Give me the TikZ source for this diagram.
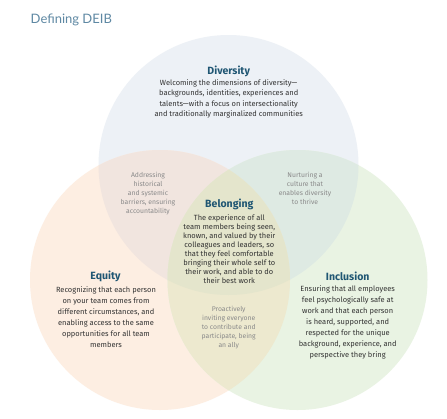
\documentclass[tikz,border=0pt]{standalone}
\usepackage{fontspec}
\setmainfont{Fira Sans}
\newfontfamily\titlefont{Lato}
\definecolor{cTop}{HTML}{EDF1F6}
\definecolor{cLeft}{HTML}{FDEEE2}
\definecolor{cRight}{HTML}{E9F3E3}
\definecolor{cTL}{HTML}{F1E5DF}
\definecolor{cTR}{HTML}{DEEAE3}
\definecolor{cLR}{HTML}{EDE9CF}
\definecolor{cAll}{HTML}{E4E5CC}
\definecolor{headc}{HTML}{1F5673}
\definecolor{bodyc}{HTML}{333333}
\definecolor{notec}{HTML}{8A8A8A}
\definecolor{titlec}{HTML}{5E88A3}
\tikzset{
  head/.style={font=\bfseries\fontsize{10.5}{12}\selectfont, text=headc, inner sep=0pt},
  body/.style={font=\fontsize{7.5}{10.5}\selectfont, text=bodyc, align=center, inner sep=0pt},
  bodyw/.style={font=\fontsize{7.5}{11}\selectfont, text=bodyc, align=center, inner sep=0pt},
  bodyb/.style={font=\fontsize{7.5}{9}\selectfont, text=bodyc, align=center, inner sep=0pt},
  note/.style={font=\fontsize{6.8}{9}\selectfont, text=notec, align=center, inner sep=0pt},
}
\begin{document}
\begin{tikzpicture}[x=1pt,y=-1pt]
\useasboundingbox (0,0) rectangle (447,418);
\fill[white] (0,0) rectangle (447,418);
\coordinate (D) at (228.5,165);
\coordinate (E) at (160,280);
\coordinate (I) at (297.5,280);
% base circles
\fill[cTop] (D) circle (130pt);
\fill[cLeft] (E) circle (130pt);
\fill[cRight] (I) circle (130pt);
% pairwise overlaps
\begin{scope}
  \clip (D) circle (130pt);
  \fill[cTL] (E) circle (130pt);
  \fill[cTR] (I) circle (130pt);
\end{scope}
\begin{scope}
  \clip (E) circle (130pt);
  \fill[cLR] (I) circle (130pt);
  \clip (I) circle (130pt);
  \fill[cAll] (D) circle (130pt);
\end{scope}
% title
\node[anchor=west, font=\titlefont\fontsize{13}{15}\selectfont, text=titlec, inner sep=0pt] (title) at (30.5,19.5) {Defining DEIB};
% Diversity
\node[head] (dhead) at (228.7,71.7) {Diversity};
\node[body] (dbody) at (228.7,99) {Welcoming the dimensions of diversity---\\backgrounds, identities, experiences and\\talents---with a focus on intersectionality\\and traditionally marginalized communities};
% Equity
\node[head] (ehead) at (105.5,276) {Equity};
\node[bodyw] (ebody) at (106,317) {Recognizing that each person\\on your team comes from\\different circumstances, and\\enabling access to the same\\opportunities for all team\\members};
% Inclusion
\node[head] (ihead) at (347.7,276) {Inclusion};
\node[bodyw] (ibody) at (347.7,322.7) {Ensuring that all employees\\feel psychologically safe at\\work and that each person\\is heard, supported, and\\respected for the unique\\background, experience, and\\perspective they bring};
% Belonging
\node[head] (bhead) at (229.3,204.3) {Belonging};
\node[bodyb] (bbody) at (229.3,249) {The experience of all\\team members being seen,\\known, and valued by their\\colleagues and leaders, so\\that they feel comfortable\\bringing their whole self to\\their work, and able to do\\their best work};
% overlap notes
\node[note] (tl) at (148,193.2) {Addressing\\historical\\and systemic\\barriers, ensuring\\accountability};
\node[note] (tr) at (305,188.8) {Nurturing a\\culture that\\enables diversity\\to thrive};
\node[note] (lr) at (228.7,327.8) {Proactively\\inviting everyone\\to contribute and\\participate, being\\an ally};
\end{tikzpicture}
\end{document}
